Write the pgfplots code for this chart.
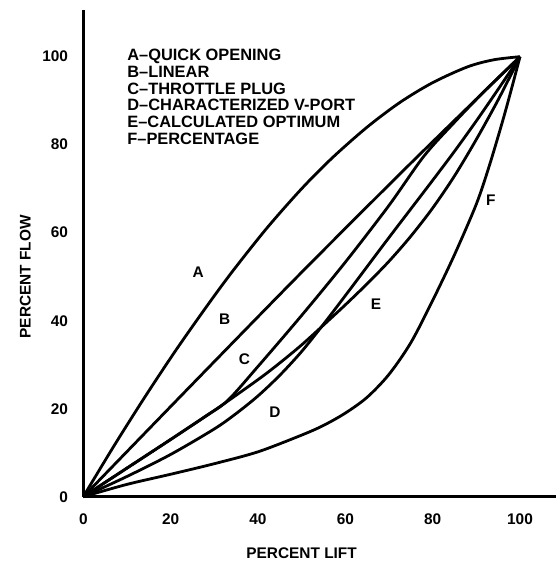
\documentclass[border=0pt]{standalone}
\usepackage{fontspec}
\setmainfont{Liberation Sans}
\usepackage{pgfplots}
\pgfplotsset{compat=1.18}
\newcommand\lbl{\fontsize{7.7pt}{8.35pt}\selectfont\bfseries}
\newcommand\key{\fontsize{8.2pt}{8.35pt}\selectfont\bfseries}
\begin{document}
\begin{tikzpicture}
\begin{axis}[
    x=2.1835pt, y=2.2pt,
    xmin=0, xmax=108.2, ymin=0, ymax=110.5,
    axis lines=left,
    axis line style={-, line width=1.4pt},
    xtick={0,20,...,100}, ytick={0,20,...,100},
    tick style={draw=none},
    /pgf/number format/assume math mode=true,
    ticklabel style={font=\lbl},
    xticklabel style={yshift=-3pt},
    yticklabel style={xshift=-2pt},
    xlabel={PERCENT LIFT}, ylabel={PERCENT FLOW},
    label style={font=\lbl},
    xlabel style={at={(axis description cs:0.462,-0.1152)}, anchor=center},
    ylabel style={at={(axis description cs:-0.1228,0.4525)}, anchor=center},
    clip=false,
    cycle list={{black}},
    every axis plot post/.append style={black, solid, line width=1.4pt, smooth, mark=none},
]
% A - quick opening
\addplot coordinates {(0,0) (7,11.5) (14,22.5) (21,33) (28,42.9) (34,51) (42,61) (50,70) (57,77) (65,84) (72.5,89.6) (80,94.1) (88,97.7) (94,99.3) (100,100)};
% B - linear
\addplot coordinates {(0,0) (25,25.6) (50,51) (75,75.8) (100,100)};
% C - throttle plug
\addplot coordinates {(0,0) (10,6.5) (20,13) (28,18.3) (33,21.8) (40,29.6) (50,41.2) (60,53.3) (70,66.2) (78,77.4) (85,85.1) (92,92.3) (100,100)};
% D - characterized V-port
\addplot coordinates {(0,0) (10,4.6) (20,9.6) (30,15.4) (35,18.9) (40,22.9) (45,27.6) (50,33) (55,39.2) (60,45.7) (65,52.3) (70,58.9) (75,65.4) (80,71.9) (85,78.5) (90,85.4) (95,92.6) (100,100)};
% E - calculated optimum
\addplot coordinates {(0,0) (10,6.5) (20,13) (30,19.6) (40,26.6) (45,30.4) (50,34.5) (55,39) (60,43.6) (65,48.4) (70,53.5) (75,59.2) (80,65.6) (85,72.9) (90,81.2) (95,90.2) (100,100)};
% F - percentage
\addplot coordinates {(0,0) (10,2.8) (20,5.1) (30,7.5) (40,10.2) (50,14) (55,16.2) (60,19) (65,22.6) (70,27.8) (75,35) (80,44.6) (85,55) (90,66.5) (93,75.3) (96,85.3) (98,92.5) (100,100)};

\node[font=\lbl] at (axis cs:26.3,51.1) {A};
\node[font=\lbl] at (axis cs:32.4,40.3) {B};
\node[font=\lbl] at (axis cs:36.9,31.2) {C};
\node[font=\lbl] at (axis cs:43.9,19.2) {D};
\node[font=\lbl] at (axis cs:67,43.7) {E};
\node[font=\lbl] at (axis cs:93.3,67.3) {F};
\node[font=\key, anchor=north west, inner sep=0pt, align=left] at (axis cs:10,101.8)
  {A–QUICK OPENING\\B–LINEAR\\C–THROTTLE PLUG\\D–CHARACTERIZED V-PORT\\E–CALCULATED OPTIMUM\\F–PERCENTAGE};
\coordinate (O) at (axis cs:0,0);
\end{axis}
\pgfresetboundingbox
\path[use as bounding box] (O) ++(-41.65pt,-38.15pt) rectangle ++(278pt,286.5pt);
\end{tikzpicture}
\end{document}
